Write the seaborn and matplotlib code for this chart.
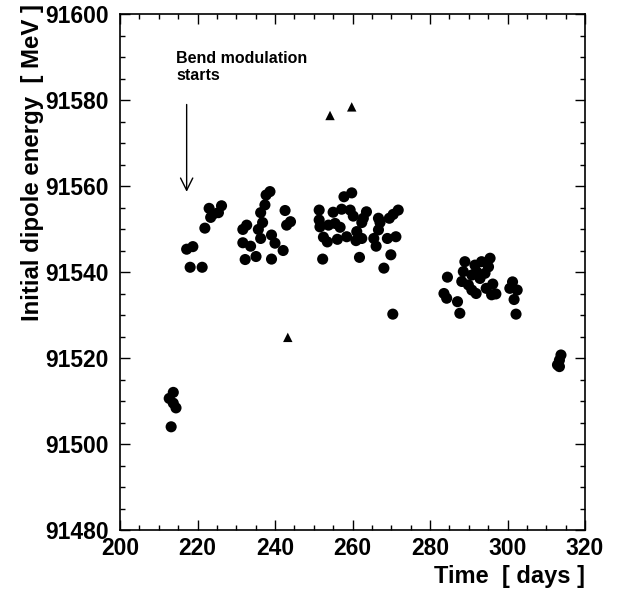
import matplotlib
matplotlib.use("Agg")
import matplotlib.pyplot as plt
import seaborn as sns
import pandas as pd
from matplotlib.ticker import MultipleLocator

# ---- data ----
circle_days = [213.75, 212.7, 213.75, 214.45, 213.2,
               218.1, 221.2, 217.2, 218.8, 221.9, 223.0, 226.2, 225.4, 224.1, 223.4,
               238.7, 237.7, 237.4, 236.3, 242.6, 232.7, 231.7, 236.8, 235.7, 243.0,
               244.0, 231.7, 233.7, 236.3, 239.1, 240.0, 242.1, 232.3, 235.1, 239.1,
               259.8, 257.8, 251.4, 255.0, 257.2, 259.4, 260.2, 263.6, 262.8, 262.4,
               266.7, 267.1, 271.8, 270.5, 269.5, 251.4, 251.6, 253.8, 255.5, 256.8,
               252.5, 253.5, 256.1, 258.5, 261.1, 260.9, 262.4, 266.7, 265.5, 266.1,
               269.0, 271.2, 252.3, 261.8, 269.9, 268.1, 270.4,
               284.5, 283.6, 284.3, 287.1, 287.7, 289.0, 288.6, 288.2, 291.6, 293.3,
               295.5, 295.1, 292.0, 290.8, 294.2, 292.9, 289.9, 290.8, 291.9, 294.5,
               296.2, 297.0, 295.9, 301.3, 300.6, 302.5, 301.7, 302.2,
               313.8, 313.4, 312.9, 313.4]
circle_energy = [91512.0, 91510.6, 91509.5, 91508.4, 91504.0,
                 91541.1, 91541.1, 91545.3, 91545.9, 91550.2, 91554.8, 91555.4, 91553.8, 91553.5, 91552.7,
                 91558.7, 91557.9, 91555.6, 91553.8, 91554.3, 91550.9, 91549.9, 91551.5, 91549.9, 91550.9,
                 91551.7, 91546.8, 91546.0, 91547.8, 91548.6, 91546.7, 91545.0, 91542.9, 91543.6, 91543.0,
                 91558.4, 91557.5, 91554.4, 91553.9, 91554.6, 91554.4, 91553.0, 91554.0, 91552.5, 91551.5,
                 91552.5, 91551.5, 91554.4, 91553.4, 91552.5, 91552.1, 91550.5, 91550.9, 91551.3, 91550.4,
                 91548.1, 91547.0, 91547.6, 91548.2, 91549.4, 91547.3, 91547.8, 91549.8, 91547.8, 91546.0,
                 91547.8, 91548.2, 91543.0, 91543.4, 91544.0, 91540.9, 91530.2,
                 91538.8, 91535.0, 91533.9, 91533.1, 91530.4, 91542.4, 91540.1, 91537.8, 91541.6, 91542.4,
                 91543.2, 91541.2, 91540.1, 91539.3, 91539.7, 91538.5, 91537.0, 91535.8, 91535.0, 91536.2,
                 91537.2, 91534.9, 91534.7, 91537.7, 91536.2, 91535.8, 91533.6, 91530.2,
                 91520.7, 91519.5, 91518.4, 91518.0]
triangle_days = [243.3, 254.2, 259.8]
triangle_energy = [91524.8, 91576.4, 91578.4]

x_ticks = [200, 220, 240, 260, 280, 300, 320]
y_ticks = [91480, 91500, 91520, 91540, 91560, 91580, 91600]
x_label = "Time  [ days ]"
y_label = "Initial dipole energy  [ MeV ]"
annotation = "Bend modulation\nstarts"
arrow_day = 217.2
arrow_from = 91579.6
arrow_to = 91558.0

df = pd.DataFrame({
    "day": circle_days + triangle_days,
    "energy": circle_energy + triangle_energy,
    "kind": ["c"] * len(circle_days) + ["t"] * len(triangle_days),
})

sns.set_theme(style="white")
plt.rcParams["font.family"] = ["Liberation Sans", "DejaVu Sans"]
plt.rcParams["font.weight"] = "bold"
for k in ["text.color", "axes.labelcolor", "xtick.color", "ytick.color"]:
    plt.rcParams[k] = "black"

fig = plt.figure(figsize=(6.18, 5.89), dpi=100)
ax = fig.add_axes([120 / 618, 1 - 530 / 589, 465 / 618, 516 / 589])

sns.scatterplot(data=df, x="day", y="energy", style="kind",
                markers={"c": "o", "t": "^"}, size="kind",
                sizes={"c": 64, "t": 46}, color="black",
                edgecolor="black", linewidth=0, legend=False, ax=ax)

ax.set_xlim(200, 320)
ax.set_ylim(91480, 91600)
ax.set_xticks(x_ticks)
ax.set_yticks(y_ticks)
ax.set_xticklabels([str(v) for v in x_ticks], fontsize=16.5, fontweight="bold")
ax.set_yticklabels([str(v) for v in y_ticks], fontsize=16.5, fontweight="bold")
ax.xaxis.set_minor_locator(MultipleLocator(5))
ax.yaxis.set_minor_locator(MultipleLocator(5))
ax.tick_params(which="both", direction="in", top=True, right=True,
               bottom=True, left=True, color="black", width=1)
ax.tick_params(which="major", length=7)
ax.tick_params(axis="y", which="major", pad=8)
ax.tick_params(axis="x", which="major", pad=5)
ax.tick_params(which="minor", length=3.5)
for s in ax.spines.values():
    s.set_color("black")
    s.set_linewidth(1.2)

ax.set_xlabel("")
ax.set_ylabel("")
fig.text(585 / 618, 1 - 588 / 589, x_label, fontsize=17, fontweight="bold",
         ha="right", va="bottom")
fig.text(33 / 618, 1 - 4 / 589, y_label, fontsize=17.3, fontweight="bold",
         ha="center", va="top", rotation=90)

ax.text(214.5, 91591.3, annotation, fontsize=11.5, fontweight="bold",
        ha="left", va="top", linespacing=1.15)
ax.annotate("", xy=(arrow_day, arrow_to), xytext=(arrow_day, arrow_from),
            arrowprops=dict(arrowstyle="->", color="black", lw=1,
                            mutation_scale=22))

fig.savefig("out.png", dpi=100)
